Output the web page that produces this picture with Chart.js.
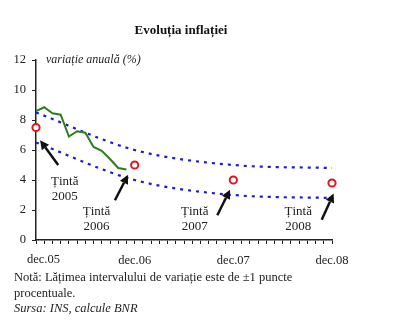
<!DOCTYPE html>
<html>
<head>
<meta charset="utf-8">
<script src="https://cdn.jsdelivr.net/npm/chart.js@4.4.1/dist/chart.umd.min.js"></script>
<style>
  html, body { margin: 0; padding: 0; background: #fff; }
  #wrap { position: relative; width: 407px; height: 325px; }
</style>
</head>
<body>
<div id="wrap"><canvas id="inflation-chart" width="407" height="325"></canvas></div>
<script>
// months counted from dec.05
const tickLabels = ['dec.05', 'dec.06', 'dec.07', 'dec.08'];
const inflationMonths = [0, 1, 2, 3, 4, 5, 6, 7, 8, 9, 10, 11];
const inflation = [8.6, 8.85, 8.45, 8.35, 6.9, 7.25, 7.15, 6.2, 5.95, 5.4, 4.8, 4.7];
const targetMonths = [0, 12, 24, 36];
const targets = [7.5, 5, 4, 3.8];
const bandUpper = [8.5, 6, 5, 4.8];
const bandLower = [6.5, 4, 3, 2.8];
const targetYears = ['2005', '2006', '2007', '2008'];
// arrow tail/head and label anchor, in axis units (month, %)
const arrowTail = [[2.7, 5.0], [9.6, 2.65], [22.05, 1.65], [34.75, 1.35]];
const arrowHead = [[0.5, 6.65], [11.2, 4.35], [23.6, 3.35], [36.2, 3.1]];
const labelPos = [[3.5, 3.9], [7.35, 1.9], [19.3, 1.9], [31.9, 1.9]];

const serif = '"Liberation Serif", "DejaVu Serif", serif';
const pts = (xs, ys) => xs.map((x, i) => ({ x: x, y: ys[i] }));

const annotations = {
    id: 'annotations',
    afterDatasetsDraw(chart) {
        const { ctx, scales: { x, y } } = chart;
        ctx.save();
        // arrows pointing at each target
        ctx.strokeStyle = '#111';
        ctx.fillStyle = '#111';
        ctx.lineWidth = 2.5;
        arrowTail.forEach((t, i) => {
            const x0 = x.getPixelForValue(t[0]), y0 = y.getPixelForValue(t[1]);
            const x1 = x.getPixelForValue(arrowHead[i][0]), y1 = y.getPixelForValue(arrowHead[i][1]);
            const a = Math.atan2(y1 - y0, x1 - x0);
            const len = 9, half = 4.5;
            const bx = x1 - len * Math.cos(a), by = y1 - len * Math.sin(a);
            ctx.beginPath();
            ctx.moveTo(x0, y0);
            ctx.lineTo(bx, by);
            ctx.stroke();
            ctx.beginPath();
            ctx.moveTo(x1, y1);
            ctx.lineTo(bx + half * Math.sin(a), by - half * Math.cos(a));
            ctx.lineTo(bx - half * Math.sin(a), by + half * Math.cos(a));
            ctx.closePath();
            ctx.fill();
        });
        // "Țintă" labels
        ctx.fillStyle = '#222';
        ctx.font = '13px ' + serif;
        ctx.textAlign = 'center';
        ctx.textBaseline = 'middle';
        labelPos.forEach((p, i) => {
            const px = x.getPixelForValue(p[0]), py = y.getPixelForValue(p[1]);
            ctx.fillText('Țintă', px, py);
            ctx.fillText(targetYears[i], px, py + 15);
        });
        ctx.restore();
    },
    afterDraw(chart) {
        const { ctx, scales: { x } } = chart;
        ctx.save();
        ctx.fillStyle = '#222';
        ctx.textBaseline = 'middle';
        // first month label sits right of its tick so it stays clear of the edge
        ctx.textAlign = 'left';
        ctx.font = '12.5px ' + serif;
        ctx.fillText(tickLabels[0], x.getPixelForValue(0) - 9, 260);
        ctx.fillStyle = '#111';
        ctx.textAlign = 'center';
        ctx.font = 'bold 13px ' + serif;
        ctx.fillText('Evoluția inflației', 181, 31);
        ctx.textAlign = 'left';
        ctx.fillStyle = '#222';
        ctx.font = 'italic 12px ' + serif;
        ctx.fillText('variație anuală (%)', 46, 60);
        ctx.font = '12.5px ' + serif;
        ctx.fillText('Notă: Lățimea intervalului de variație este de ±1 puncte', 14, 278);
        ctx.fillText('procentuale.', 14, 294);
        ctx.font = 'italic 12.5px ' + serif;
        ctx.fillText('Sursa: INS, calcule BNR', 14, 309);
        ctx.restore();
    }
};

new Chart(document.getElementById('inflation-chart'), {
    type: 'line',
    data: {
        datasets: [{
            label: 'Țintă',
            data: pts(targetMonths, targets),
            showLine: false,
            clip: false,
            pointRadius: 3.6,
            pointBorderWidth: 2,
            pointBorderColor: '#e8141c',
            pointBackgroundColor: '#fff'
        }, {
            label: 'Inflație',
            data: pts(inflationMonths, inflation),
            borderColor: '#2e7d1f',
            borderWidth: 2,
            pointRadius: 0,
            tension: 0
        }, {
            label: 'Limita superioară',
            data: pts(targetMonths, bandUpper),
            borderColor: '#1c1cd0',
            borderWidth: 2.2,
            borderDash: [3, 5],
            pointRadius: 0,
            clip: false,
            cubicInterpolationMode: 'monotone'
        }, {
            label: 'Limita inferioară',
            data: pts(targetMonths, bandLower),
            borderColor: '#1c1cd0',
            borderWidth: 2.2,
            borderDash: [3, 5],
            pointRadius: 0,
            clip: false,
            cubicInterpolationMode: 'monotone'
        }]
    },
    options: {
        responsive: false,
        animation: false,
        layout: { padding: { left: 0, right: 75, top: 60, bottom: 55 } },
        plugins: {
            legend: { display: false },
            tooltip: { enabled: false }
        },
        scales: {
            x: {
                type: 'linear',
                min: 0,
                max: 36,
                afterFit: s => { s.height = 30; },
                border: { display: true, color: '#222', width: 1.5 },
                grid: { drawOnChartArea: false, drawTicks: true, tickLength: 4, color: '#222' },
                ticks: {
                    stepSize: 1,
                    autoSkip: false,
                    maxRotation: 0,
                    padding: 9,
                    color: '#222',
                    font: { family: serif, size: 12.5 },
                    callback: v => (v % 12 === 0 && v > 0 ? tickLabels[v / 12] : '')
                }
            },
            y: {
                min: 0,
                max: 12,
                afterFit: s => { s.width = 36; },
                border: { display: true, color: '#222', width: 1.5 },
                grid: { drawOnChartArea: false, drawTicks: true, tickLength: 4, color: '#222' },
                ticks: {
                    stepSize: 2,
                    padding: 6,
                    color: '#222',
                    font: { family: serif, size: 12.5 }
                }
            }
        }
    },
    plugins: [annotations]
});
</script>
</body>
</html>
